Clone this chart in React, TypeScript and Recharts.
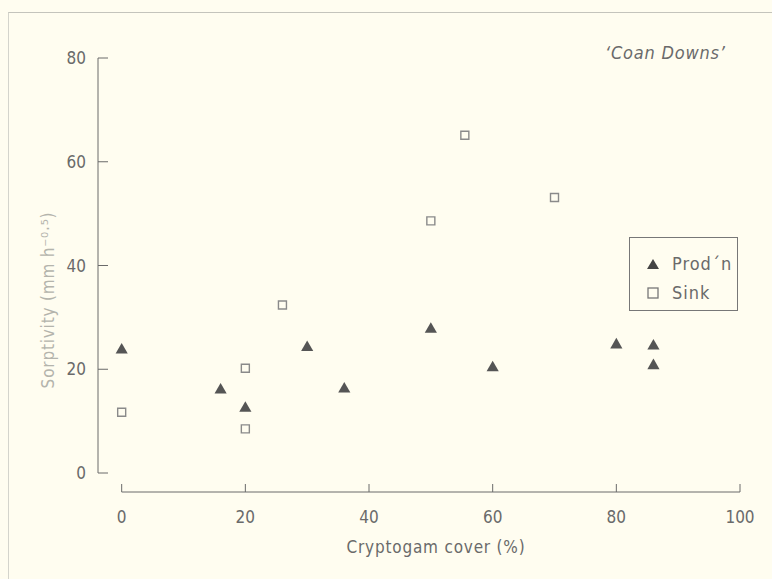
import React from 'react';
import {
  ScatterChart,
  Scatter,
  XAxis,
  YAxis,
  ReferenceLine,
  Legend,
  Label,
} from 'recharts';

// Cryptogam cover (%) and sorptivity
const prodX = [0, 16, 20, 30, 36, 50, 60, 80, 86, 86];
const prodY = [23.7, 16, 12.5, 24.2, 16.2, 27.7, 20.3, 24.7, 24.5, 20.7];
const sinkX = [0, 20, 20, 26, 50, 55.5, 70];
const sinkY = [11.7, 20.2, 8.5, 32.4, 48.6, 65.1, 53.1];

const xTicks = [0, 20, 40, 60, 80, 100];
const yTicks = [0, 20, 40, 60, 80];

const prodData = prodX.map((x, i) => ({ x, y: prodY[i] }));
const sinkData = sinkX.map((x, i) => ({ x, y: sinkY[i] }));

// axes sit a little apart from the zero lines, as in the original
const X_MIN = -3.83;
const Y_MIN = -3.66;

const BG = '#fffdf0';
const INK = '#6a6a6a';
const FONT = "'Liberation Sans Narrow', 'DejaVu Sans Condensed', Roboto, sans-serif";

const XTick = (props: any) => {
  const { x, y, payload } = props;
  return (
    <g>
      <line x1={x} x2={x} y1={y} y2={y - 8} stroke={INK} strokeWidth={1} />
      <text x={x} y={y + 31} textAnchor="middle" fill={INK} fontSize={17} fontFamily={FONT}>
        {payload.value}
      </text>
    </g>
  );
};

const YTick = (props: any) => {
  const { x, y, payload } = props;
  return (
    <g>
      <line x1={x} x2={x + 10} y1={y} y2={y} stroke={INK} strokeWidth={1} />
      <text x={x - 12} y={y + 6} textAnchor="end" fill={INK} fontSize={17} fontFamily={FONT}>
        {payload.value}
      </text>
    </g>
  );
};

const LegendBox = (props: any) => {
  const items = props.payload || [];
  return (
    <div
      style={{
        width: 109,
        height: 74,
        border: '1px solid #777',
        background: BG,
        fontFamily: FONT,
        fontSize: 18,
        color: INK,
        boxSizing: 'border-box',
        padding: '11px 0 0 16px',
      }}
    >
      {items.map((it: any) => (
        <div key={it.value} style={{ display: 'flex', alignItems: 'center', height: 29 }}>
          <svg width={14} height={14} style={{ marginRight: 12 }}>
            {it.value === 'Sink' ? (
              <rect x={2} y={2} width={10} height={10} fill={BG} stroke="#777" strokeWidth={1.3} />
            ) : (
              <polygon points="7,2 13,12 1,12" fill="#444" />
            )}
          </svg>
          <span style={{ letterSpacing: 1 }}>{it.value}</span>
        </div>
      ))}
    </div>
  );
};

export default function App() {
  return (
    <div
      style={{
        position: 'absolute',
        left: 0,
        top: 0,
        width: 772,
        height: 579,
        background: BG,
        overflow: 'hidden',
      }}
    >
      <div
        style={{
          position: 'absolute',
          left: 8,
          top: 12,
          width: 800,
          height: 600,
          borderTop: '1px solid #c4c4bc',
          borderLeft: '1px solid #d4d4cc',
        }}
      />
      <div
        style={{
          position: 'absolute',
          left: 605,
          top: 42,
          fontFamily: FONT,
          fontStyle: 'italic',
          fontSize: 18,
          letterSpacing: 0.8,
          color: INK,
        }}
      >
        ‘Coan Downs’
      </div>
      <ScatterChart
        width={772}
        height={579}
        margin={{ top: 58, right: 32, bottom: 27, left: 38 }}
        style={{ position: 'absolute', left: 0, top: 0 }}
      >
        <XAxis
          type="number"
          dataKey="x"
          domain={[X_MIN, 100]}
          ticks={xTicks}
          interval={0}
          axisLine={false}
          tickLine={false}
          tickSize={0}
          tickMargin={0}
          tick={<XTick />}
          height={60}
        >
          <Label
            content={() => (
              <text x={436} y={553} textAnchor="middle" fill={INK} fontSize={17} fontFamily={FONT} letterSpacing={0.8}>
                Cryptogam cover (%)
              </text>
            )}
          />
        </XAxis>
        <YAxis
          type="number"
          dataKey="y"
          domain={[Y_MIN, 80]}
          ticks={yTicks}
          interval={0}
          axisLine={false}
          tickLine={false}
          tickSize={0}
          tickMargin={0}
          tick={<YTick />}
          width={60}
        >
          <Label
            content={() => (
              <text
                x={54}
                y={300}
                transform="rotate(-90 54 300)"
                textAnchor="middle"
                fill="#b4b4ac"
                fontSize={17}
                fontFamily={FONT}
                letterSpacing={0.8}
              >
                Sorptivity (mm h⁻⁰·⁵)
              </text>
            )}
          />
        </YAxis>
        <ReferenceLine
          segment={[
            { x: X_MIN, y: 0 },
            { x: X_MIN, y: 80 },
          ]}
          ifOverflow="visible"
          stroke={INK}
          strokeWidth={1}
        />
        <ReferenceLine
          segment={[
            { x: 0, y: Y_MIN },
            { x: 100, y: Y_MIN },
          ]}
          ifOverflow="visible"
          stroke={INK}
          strokeWidth={1}
        />
        <Legend
          layout="vertical"
          align="center"
          verticalAlign="middle"
          content={<LegendBox />}
          wrapperStyle={{ position: 'absolute', left: 629, top: 237, width: 110, height: 76 }}
        />
        <Scatter
          name="Prod´n"
          data={prodData}
          shape="triangle"
          legendType="triangle"
          size={62}
          fill="#555"
          isAnimationActive={false}
        />
        <Scatter
          name="Sink"
          data={sinkData}
          shape="square"
          legendType="square"
          size={120}
          fill={BG}
          stroke="#8a8a8a"
          strokeWidth={1.4}
          isAnimationActive={false}
        />
      </ScatterChart>
    </div>
  );
}
